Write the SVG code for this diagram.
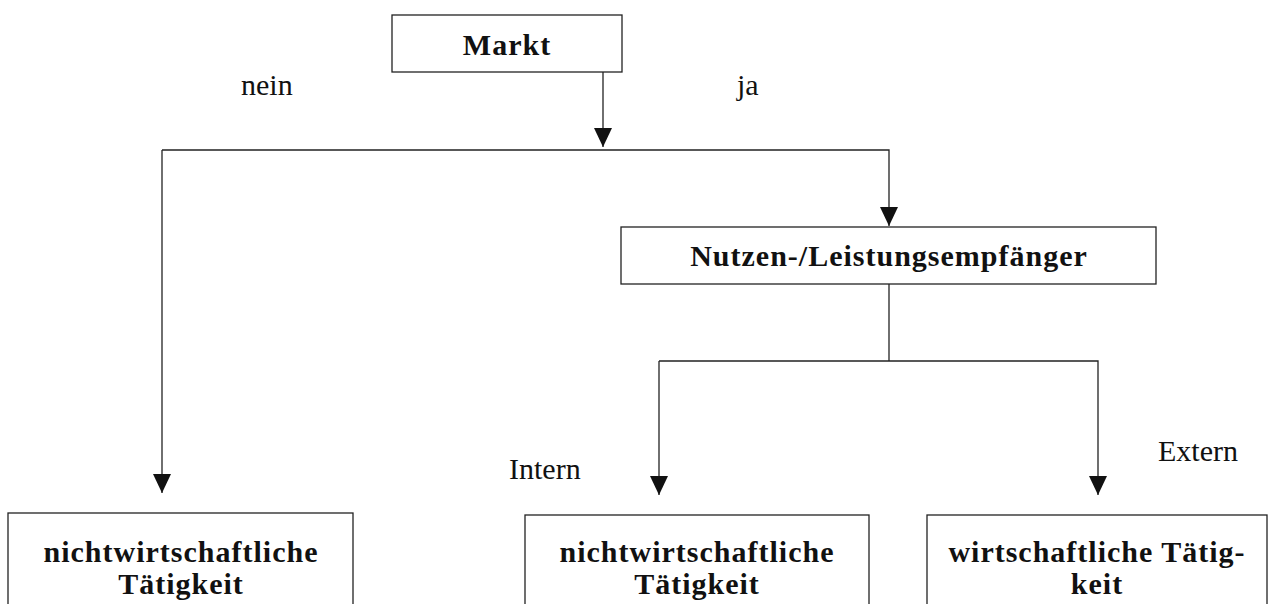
<svg xmlns="http://www.w3.org/2000/svg" width="1273" height="604" viewBox="0 0 1273 604">
<style>
.box{fill:#fff;stroke:#222;stroke-width:1.3}
.bt{font-family:"Liberation Serif",serif;font-weight:bold;font-size:30px;letter-spacing:1px;fill:#111;text-anchor:middle}
.lb{font-family:"Liberation Serif",serif;font-size:30px;fill:#111}
.ln{fill:none;stroke:#222;stroke-width:1.3}
</style>
<defs>
<marker id="ah" markerUnits="userSpaceOnUse" viewBox="0 0 19 18" markerWidth="19" markerHeight="18" refX="19" refY="9" orient="auto">
<path d="M0,0 L19,9 L0,18 z" fill="#111"/>
</marker>
</defs>
<rect width="1273" height="604" fill="#fff"/>
<g id="connectors">
<line class="ln" x1="603" y1="72" x2="603" y2="147" marker-end="url(#ah)"/>
<polyline class="ln" points="162,150 889,150 889,226" marker-end="url(#ah)"/>
<line class="ln" x1="162" y1="150" x2="162" y2="493" marker-end="url(#ah)"/>
<line class="ln" x1="889" y1="284" x2="889" y2="361"/>
<polyline class="ln" points="659,361 1098,361 1098,495" marker-end="url(#ah)"/>
<line class="ln" x1="659" y1="361" x2="659" y2="495" marker-end="url(#ah)"/>
</g>
<g id="labels">
<text class="lb" x="241" y="95">nein</text>
<text class="lb" x="737" y="95">ja</text>
<text class="lb" x="509" y="479">Intern</text>
<text class="lb" x="1158" y="461">Extern</text>
</g>
<g id="markt">
<rect class="box" x="392" y="15" width="230" height="57"/>
<text class="bt" x="507" y="55">Markt</text>
</g>
<g id="nutzen">
<rect class="box" x="621" y="227" width="535" height="57"/>
<text class="bt" x="889" y="266">Nutzen-/Leistungsempfänger</text>
</g>
<g id="nw-left">
<rect class="box" x="8" y="513" width="345" height="120"/>
<text class="bt" x="181" y="562">nichtwirtschaftliche</text>
<text class="bt" x="181" y="594">Tätigkeit</text>
</g>
<g id="nw-mid">
<rect class="box" x="525" y="515" width="344" height="120"/>
<text class="bt" x="697" y="562">nichtwirtschaftliche</text>
<text class="bt" x="697" y="594">Tätigkeit</text>
</g>
<g id="w-right">
<rect class="box" x="927" y="515" width="340" height="120"/>
<text class="bt" x="1097" y="562">wirtschaftliche Tätig-</text>
<text class="bt" x="1097" y="594">keit</text>
</g>
</svg>
